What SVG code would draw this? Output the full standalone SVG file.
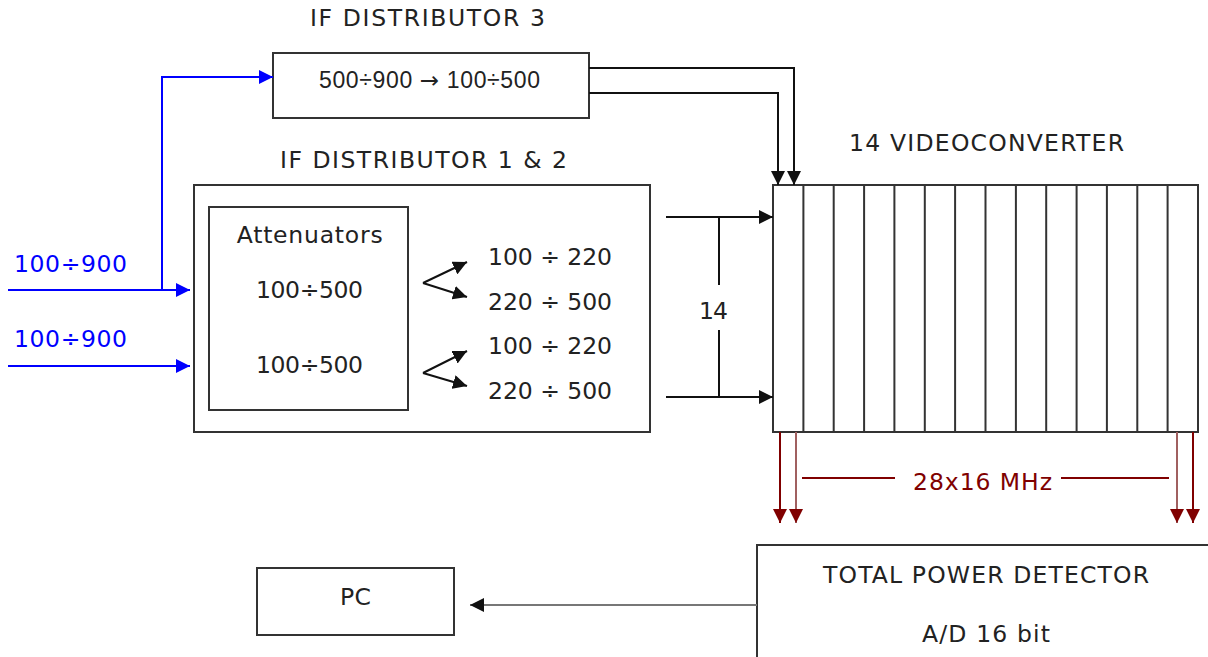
<svg xmlns="http://www.w3.org/2000/svg" width="1208" height="657" viewBox="0 0 1208 657">
<defs>
<style>
text{font-family:"DejaVu Sans",Verdana,sans-serif;font-size:23.5px;fill:#222}
.t{text-anchor:middle}
.box{fill:#fff;stroke:#333;stroke-width:2}
.ln{fill:none;stroke:#111;stroke-width:2}
.bl{fill:none;stroke:#0000ff;stroke-width:2}
.rd{fill:none;stroke:#800000;stroke-width:2}
.blue{fill:#0000ff}
.red{fill:#800000}
</style>
<marker id="ak" viewBox="0 0 10 10" refX="10" refY="5" markerWidth="14" markerHeight="14" markerUnits="userSpaceOnUse" orient="auto"><path d="M0,0L10,5L0,10z" fill="#111"/></marker>
<marker id="ab" viewBox="0 0 10 10" refX="10" refY="5" markerWidth="14" markerHeight="14" markerUnits="userSpaceOnUse" orient="auto"><path d="M0,0L10,5L0,10z" fill="#0000ff"/></marker>
<marker id="ar" viewBox="0 0 10 10" refX="10" refY="5" markerWidth="14" markerHeight="14" markerUnits="userSpaceOnUse" orient="auto"><path d="M0,0L10,5L0,10z" fill="#800000"/></marker>
</defs>
<g id="if3">
<text class="t" x="427.5" y="26" textLength="235" lengthAdjust="spacing">IF DISTRIBUTOR 3</text>
<rect class="box" x="273" y="53" width="316" height="65"/>
<text class="t" x="429.5" y="88" textLength="221" lengthAdjust="spacing" style="font-family:'Liberation Sans',Arial,sans-serif;font-size:23px">500÷900 <tspan style="font-family:'DejaVu Sans',sans-serif">→</tspan> 100÷500</text>
</g>
<g id="if12">
<text class="t" x="423.5" y="168" textLength="287" lengthAdjust="spacing">IF DISTRIBUTOR 1 &amp; 2</text>
<rect class="box" x="194" y="185" width="456" height="247"/>
<rect class="box" x="209" y="207" width="199" height="203"/>
<text class="t" x="309.7" y="243" textLength="146" lengthAdjust="spacing">Attenuators</text>
<text class="t" x="309.5" y="298" textLength="107" lengthAdjust="spacing">100÷500</text>
<text class="t" x="309.5" y="373" textLength="107" lengthAdjust="spacing">100÷500</text>
<text x="488" y="265" textLength="124" lengthAdjust="spacing">100 ÷ 220</text>
<text x="488" y="310" textLength="124" lengthAdjust="spacing">220 ÷ 500</text>
<text x="488" y="354" textLength="124" lengthAdjust="spacing">100 ÷ 220</text>
<text x="488" y="399" textLength="124" lengthAdjust="spacing">220 ÷ 500</text>
</g>
<g id="videoconverter">
<text class="t" x="986.5" y="151" textLength="275" lengthAdjust="spacing">14 VIDEOCONVERTER</text>
<rect class="box" x="773" y="185" width="425" height="247"/>
<path class="ln" d="M803.4,185V432M833.7,185V432M864.1,185V432M894.4,185V432M924.8,185V432M955.1,185V432M985.5,185V432M1015.9,185V432M1046.2,185V432M1076.6,185V432M1106.9,185V432M1137.3,185V432M1167.6,185V432" style="stroke:#333"/>
</g>
<g id="pc">
<rect class="box" x="257" y="568" width="197" height="67"/>
<text class="t" x="355.5" y="605" textLength="31" lengthAdjust="spacing">PC</text>
</g>
<g id="tpd">
<rect class="box" x="757" y="545" width="460" height="130"/>
<text class="t" x="986" y="583" textLength="326" lengthAdjust="spacing">TOTAL POWER DETECTOR</text>
<text class="t" x="986" y="642" textLength="128" lengthAdjust="spacing">A/D 16 bit</text>
</g>
<g id="connectors">
<path class="ln" d="M589,68H794V185" marker-end="url(#ak)"/>
<path class="ln" d="M589,93H778V185" marker-end="url(#ak)"/>
<path class="ln" d="M423,283L467,262" marker-end="url(#ak)"/>
<path class="ln" d="M423,283L467,297" marker-end="url(#ak)"/>
<path class="ln" d="M423,373L467,351" marker-end="url(#ak)"/>
<path class="ln" d="M423,373L467,386" marker-end="url(#ak)"/>
<path class="ln" d="M666,217H773" marker-end="url(#ak)"/>
<path class="ln" d="M666,397H773" marker-end="url(#ak)"/>
<path class="ln" d="M719,217V285M719,330V397"/>
<text class="t" x="713.5" y="319" textLength="29" lengthAdjust="spacing">14</text>
<path class="bl" d="M8,290H190" marker-end="url(#ab)"/>
<path class="bl" d="M162,290V77H273" marker-end="url(#ab)"/>
<path class="bl" d="M8,366H190" marker-end="url(#ab)"/>
<text class="blue" x="14" y="272" textLength="113" lengthAdjust="spacing">100÷900</text>
<text class="blue" x="14" y="347" textLength="113" lengthAdjust="spacing">100÷900</text>
<path class="rd" d="M780,432V523" marker-end="url(#ar)"/>
<path class="rd" d="M796,432V523" marker-end="url(#ar)" style="stroke:#a06060"/>
<path class="rd" d="M1177,432V523" marker-end="url(#ar)" style="stroke:#a06060"/>
<path class="rd" d="M1193,432V523" marker-end="url(#ar)"/>
<path class="rd" d="M802,478H895M1061,478H1169"/>
<text class="t red" x="982.5" y="490" textLength="139" lengthAdjust="spacing">28x16 MHz</text>
<path class="ln" d="M757,605H470" marker-end="url(#ak)" style="stroke:#777"/>
</g>
</svg>
